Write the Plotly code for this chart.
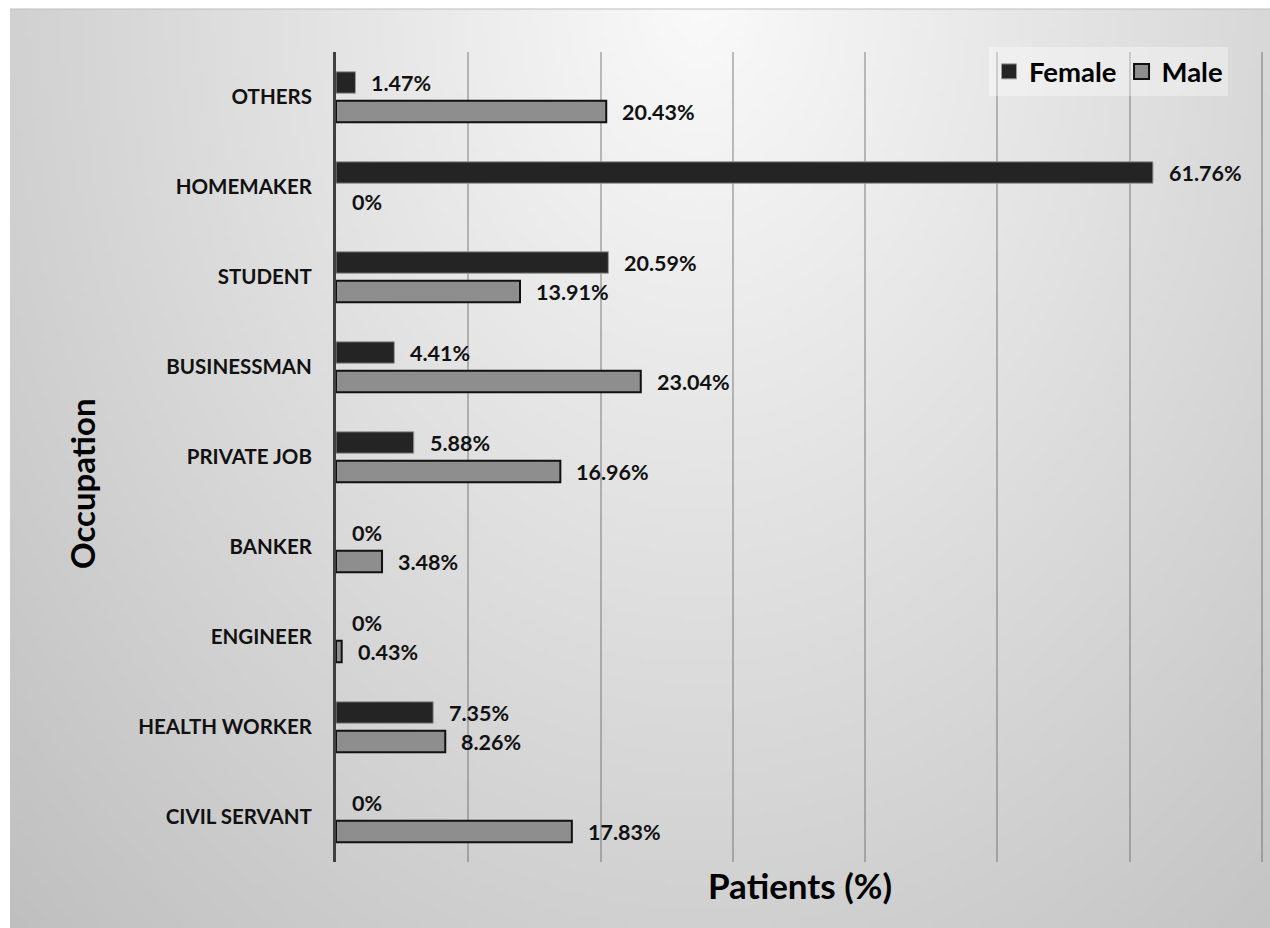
import base64, struct, zlib
import numpy as np
import plotly.graph_objects as go

# ---------------- data ----------------
categories = ["OTHERS", "HOMEMAKER", "STUDENT", "BUSINESSMAN", "PRIVATE JOB",
              "BANKER", "ENGINEER", "HEALTH WORKER", "CIVIL SERVANT"]
female = [1.47, 61.76, 20.59, 4.41, 5.88, 0, 0, 7.35, 0]
male = [20.43, 0, 13.91, 23.04, 16.96, 3.48, 0.43, 8.26, 17.83]
x_ticks = [0, 10, 20, 30, 40, 50, 60, 70]

FONT = "Lato, sans-serif"
FEMALE_COLOR = "#242424"
MALE_COLOR = "#8e8e8e"

# ---------------- gradient background (PNG data URI) ----------------
def gradient_png(w, h):
    ys, xs = np.mgrid[0:h, 0:w]
    px = xs / (w - 1) * 1260 + 10
    py = ys / (h - 1) * 919 + 9
    d = np.sqrt(((px - 700) / 760) ** 2 + ((py - 0) / 1000) ** 2)
    v = np.clip(250 - 45 * d, 190, 252).astype(np.uint8)
    raw = b"".join(b"\x00" + v[r].tobytes() for r in range(h))
    def chunk(t, data):
        c = struct.pack(">I", len(data)) + t + data
        return c + struct.pack(">I", zlib.crc32(t + data) & 0xffffffff)
    png = b"\x89PNG\r\n\x1a\n" + chunk(b"IHDR", struct.pack(">IIBBBBB", w, h, 8, 0, 0, 0, 0)) \
        + chunk(b"IDAT", zlib.compress(raw, 9)) + chunk(b"IEND", b"")
    return "data:image/png;base64," + base64.b64encode(png).decode()

bg_uri = gradient_png(252, 184)

# plot area in pixels
L, R, T, B = 336, 1263, 52, 862
W, H = 1270, 928
pw, ph = R - L, B - T

fig = go.Figure()
fig.add_trace(go.Bar(
    name="Female", y=categories, x=female, orientation="h", showlegend=False,
    marker=dict(color=FEMALE_COLOR,
                line=dict(color="#9a9a9a", width=[0 if v == 0 else 1 for v in female])),
))
fig.add_trace(go.Bar(
    name="Male", y=categories, x=male, orientation="h", showlegend=False,
    marker=dict(color=MALE_COLOR,
                line=dict(color="#111111", width=[0 if v == 0 else 2 for v in male])),
))
# legend entries with larger square swatches
fig.add_trace(go.Scatter(name="Female", x=[None], y=[None], mode="markers",
                         marker=dict(symbol="square", size=15, color=FEMALE_COLOR,
                                     line=dict(color="#9a9a9a", width=1))))
fig.add_trace(go.Scatter(name="Male", x=[None], y=[None], mode="markers",
                         marker=dict(symbol="square", size=15, color=MALE_COLOR,
                                     line=dict(color="#111111", width=2))))

annotations = []
for cat, fv, mv in zip(categories, female, male):
    for v, ys in ((fv, 14.5), (mv, -14.5)):
        annotations.append(dict(
            x=v, y=cat, xref="x", yref="y", text=("0%" if v == 0 else f"{v:.2f}%"),
            xanchor="left", yanchor="middle", xshift=14, yshift=ys, showarrow=False,
            font=dict(family=FONT, size=21.5, color="#111111", weight="bold"),
        ))

annotations.append(dict(
    x=0.5, y=-(885 - B) / ph, xref="paper", yref="paper", text="Patients (%)",
    showarrow=False, xanchor="center", yanchor="middle",
    font=dict(family=FONT, size=35, color="#000000", weight="bold"),
))
annotations.append(dict(
    x=(82 - L) / pw, y=(B - 484) / ph, xref="paper", yref="paper", text="Occupation",
    textangle=-90, showarrow=False, xanchor="center", yanchor="middle",
    font=dict(family=FONT, size=33, color="#000000", weight="bold"),
))

fig.update_layout(
    width=W, height=H,
    margin=dict(l=L, r=W - R, t=T, b=H - B, pad=0),
    paper_bgcolor="#ffffff", plot_bgcolor="rgba(0,0,0,0)",
    barmode="group", bargap=0.356, bargroupgap=0.26,
    xaxis=dict(range=[0, 70.08], tickvals=x_ticks, showticklabels=False, ticks="",
               showgrid=True, gridcolor="rgba(90,90,90,0.38)", gridwidth=2,
               zeroline=False, showline=False, fixedrange=True),
    yaxis=dict(categoryorder="array", categoryarray=categories, autorange="reversed",
               showline=True, linecolor="#404040", linewidth=3, ticks="",
               ticklabelstandoff=17, showgrid=False, zeroline=False,
               tickfont=dict(family=FONT, size=20.5, color="#111111", weight="bold")),
    legend=dict(orientation="h", x=(1228 - L) / pw, xanchor="right",
                y=(B - 47) / ph, yanchor="top", bgcolor="rgba(255,255,255,0.35)",
                font=dict(family=FONT, size=27.5, color="#000000", weight="bold"),
                itemwidth=30, tracegroupgap=0),
    annotations=annotations,
    images=[dict(source=bg_uri, xref="paper", yref="paper",
                 x=(10 - L) / pw, y=(B - 9) / ph, sizex=1260 / pw, sizey=919 / ph,
                 xanchor="left", yanchor="top", sizing="stretch", layer="below")],
    shapes=[dict(type="line", xref="paper", yref="paper",
                 x0=(10 - L) / pw, x1=(W - L) / pw, y0=(B - 9) / ph, y1=(B - 9) / ph,
                 line=dict(color="#bdbdbd", width=1))],
    showlegend=True,
)

fig.write_html("out.html", config={"displayModeBar": False},
               post_script="document.body.style.margin='0';")
